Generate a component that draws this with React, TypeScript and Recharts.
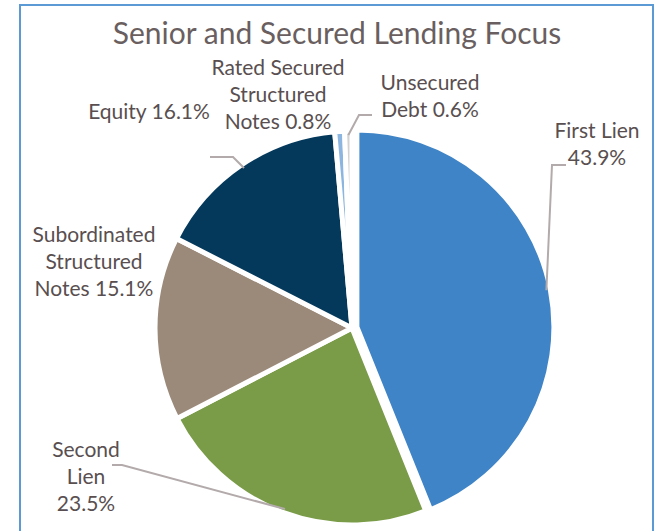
import React from 'react';
import { PieChart, Pie, Cell } from 'recharts';

const categories = [
  'First Lien',
  'Second Lien',
  'Subordinated Structured Notes',
  'Equity',
  'Rated Secured Structured Notes',
  'Unsecured Debt',
];
const shares = [43.9, 23.5, 15.1, 16.1, 0.8, 0.6];
const labelWords = [
  ['First Lien'],
  ['Second', 'Lien'],
  ['Subordinated', 'Structured', 'Notes'],
  ['Equity'],
  ['Rated Secured', 'Structured', 'Notes'],
  ['Unsecured', 'Debt'],
];
const pctOwnLine = [true, true, false, false, false, false];
const title = 'Senior and Secured Lending Focus';

const colors = ['#3F84C6', '#7A9C48', '#9B8A7A', '#04395C', '#8CB6E0', '#D2D2D2'];

// layout (annotation placement)
const W = 658;
const H = 531;
const CX = 352;
const CY = 328;
const R = 197;
const EXPLODE = 5;
const TEXT_COLOR = '#594F50';
const LEADER_COLOR = '#B3ABAB';
const FONT = 'Lato, "Open Sans", sans-serif';
const LINE_H = 27;

const labelPos = [
  { x: 597, y: 138 },
  { x: 86, y: 457 },
  { x: 94, y: 242 },
  { x: 149, y: 119 },
  { x: 278, y: 75 },
  { x: 430, y: 90 },
];
const leaderPts: (number[][] | null)[] = [
  [[566, 165], [552, 165]],
  [[112, 465], [122, 465]],
  null,
  [[210, 157], [233, 157]],
  null,
  [[372, 115], [359, 115]],
];

const data = categories.map((name, i) => ({ name, value: shares[i] }));

const total = shares.reduce((a, b) => a + b, 0);
const firstMid = 90 - (shares[0] / total) * 360 / 2;
const RAD = Math.PI / 180;
const exCX = CX + EXPLODE * Math.cos(firstMid * RAD);
const exCY = CY - EXPLODE * Math.sin(firstMid * RAD);

const renderLabel = (props: any) => {
  const { midAngle, index, value } = props;
  const pos = labelPos[index];
  const pct = `${Number(value).toFixed(1)}%`;
  const words = labelWords[index];
  const lines = pctOwnLine[index]
    ? [...words, pct]
    : [...words.slice(0, -1), `${words[words.length - 1]} ${pct}`];
  const lp = leaderPts[index];
  let path: string | null = null;
  if (lp) {
    const ccx = index === 0 ? exCX : CX;
    const ccy = index === 0 ? exCY : CY;
    const er = R - 4;
    const ex = ccx + er * Math.cos(-midAngle * RAD);
    const ey = ccy + er * Math.sin(-midAngle * RAD);
    path = `M${lp[0][0]},${lp[0][1]} L${lp[1][0]},${lp[1][1]} L${ex},${ey}`;
  }
  return (
    <g key={`lbl-${index}`}>
      {path && <path d={path} stroke={LEADER_COLOR} strokeWidth={2} fill="none" />}
      <text
        textAnchor="middle"
        fill={TEXT_COLOR}
        fontSize={21}
        fontFamily={FONT}
      >
        {lines.map((ln, k) => (
          <tspan key={k} x={pos.x} y={pos.y + k * LINE_H}>
            {ln}
          </tspan>
        ))}
      </text>
    </g>
  );
};

export default function App() {
  return (
    <div style={{ position: 'fixed', left: 0, top: 0, width: W, height: H, background: '#fff' }}>
      <svg width={W} height={H} style={{ position: 'absolute', left: 0, top: 0 }}>
        <rect x={20} y={5} width={633} height={H + 20} fill="#fff" stroke="#5B9AD4" strokeWidth={2} />
        <text x={337} y={44} textAnchor="middle" fill="#6A5F60" fontSize={30} fontFamily={FONT}>
          {title}
        </text>
      </svg>
      <div style={{ position: 'absolute', left: 0, top: 0 }}>
        <PieChart width={W} height={H} margin={{ top: 0, right: 0, bottom: 0, left: 0 }}>
          <Pie
            data={data}
            dataKey="value"
            nameKey="name"
            cx={CX}
            cy={CY}
            outerRadius={R}
            startAngle={90}
            endAngle={-270}
            stroke="#fff"
            strokeWidth={5}
            label={renderLabel}
            labelLine={false}
            isAnimationActive={false}
          >
            {data.map((d, i) => (
              <Cell
                key={d.name}
                fill={i === 0 ? 'none' : colors[i]}
                stroke={i === 0 ? 'none' : '#fff'}
              />
            ))}
          </Pie>
          <Pie
            data={data}
            dataKey="value"
            nameKey="name"
            cx={exCX}
            cy={exCY}
            outerRadius={R}
            startAngle={90}
            endAngle={-270}
            stroke="#fff"
            strokeWidth={5}
            label={false}
            labelLine={false}
            isAnimationActive={false}
          >
            {data.map((d, i) => (
              <Cell
                key={d.name}
                fill={i === 0 ? colors[0] : 'none'}
                stroke={i === 0 ? '#fff' : 'none'}
              />
            ))}
          </Pie>
        </PieChart>
      </div>
    </div>
  );
}
